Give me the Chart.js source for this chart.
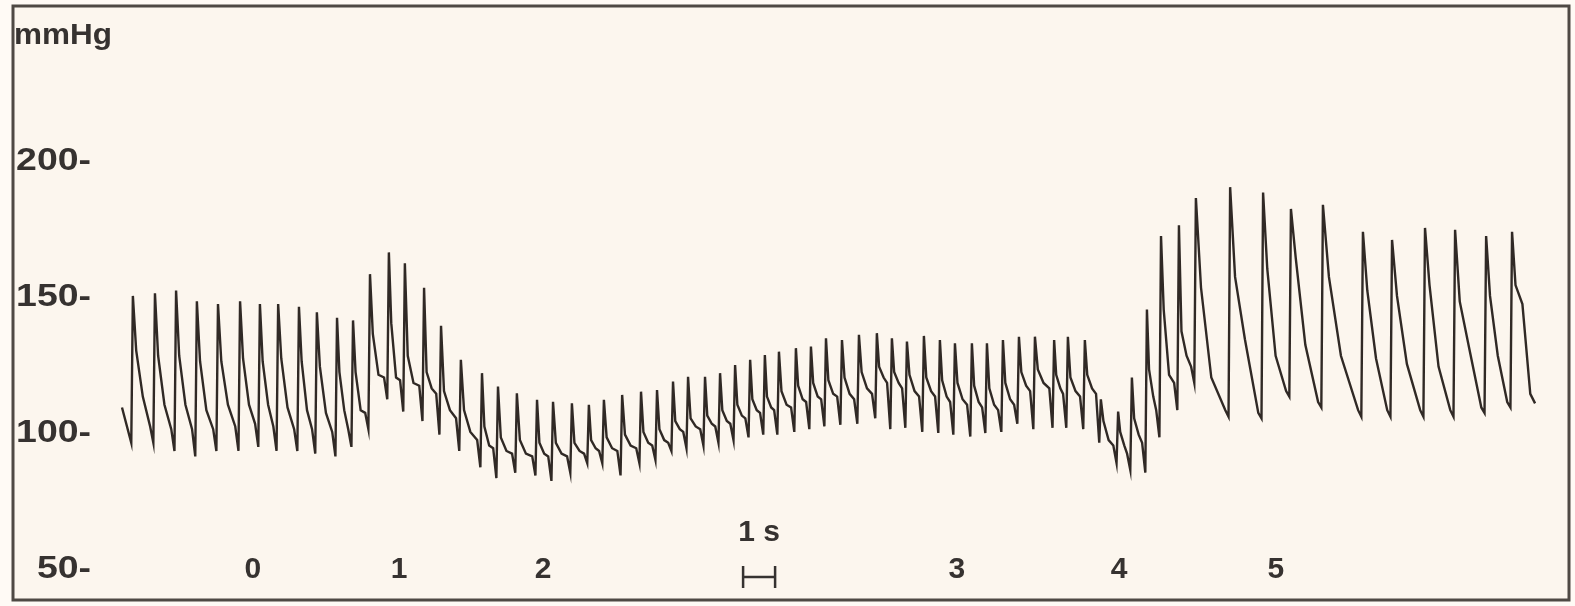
<!DOCTYPE html>
<html>
<head>
<meta charset="utf-8">
<title>Blood pressure trace</title>
<script src="https://cdn.jsdelivr.net/npm/chart.js@4.4.1/dist/chart.umd.min.js"></script>
<style>
  html, body { margin: 0; padding: 0; background: #fffaf5; }
  #wrap { width: 1575px; height: 606px; position: relative; }
</style>
</head>
<body>
<div id="wrap"><canvas id="bp-chart"></canvas></div>
<script>
// Arterial pressure trace (mmHg), one entry per heart beat, times in seconds

// time of each systolic peak
const beatTime = [
  0.34, 1.03, 1.69, 2.34, 3.00, 3.69, 4.31, 4.88, 5.53, 6.09, 6.72, 7.22,
  7.75, 8.34, 8.84, 9.44, 9.97, 10.59, 11.25, 11.75, 12.34, 12.97, 13.47, 14.06,
  14.59, 15.06, 15.63, 16.22, 16.72, 17.22, 17.69, 18.22, 18.69, 19.16, 19.63,
  20.09, 20.53, 21.06, 21.53, 22.00,
  22.50, 23.03, 23.59, 24.06, 24.53, 25.06, 25.56, 26.03, 26.56, 27.03, 27.53,
  28.03, 28.53, 29.13, 29.56, 30.09,
  30.59, 31.13, 31.56, 32.03, 32.47, 33.03, 33.56,
  34.63, 35.66, 36.53, 37.53, 38.78, 39.69, 40.72, 41.66, 42.63, 43.44
];
// systolic peak
const systolic = [
  150, 151, 152, 148, 147, 148, 147, 147, 146, 144, 142, 141,
  158, 166, 162, 153, 139, 126.5, 121.6, 116.7, 114.2, 111.8, 111.1, 110.5,
  110, 111.8, 113.6, 114.8, 115.4, 118.5, 120.3, 120.3, 121.6, 124.6, 126.5,
  128.3, 129.5, 130.8, 131.4, 134.4,
  133.8, 135.7, 136.3, 134.4, 133.2, 135.3, 133.8, 132.6, 132.6, 132.6, 133.8,
  135, 135, 133.8, 135, 133.8,
  112, 107.5, 120, 145, 172, 176, 186,
  190, 188, 182, 183.5, 173.6, 170.6, 175, 174.3, 172, 173.6
];
// pressure just after the fast fall from the peak
const shoulder = [
  130, 128, 128, 126, 126, 127, 126, 127, 126, 124, 122, 122,
  136, 140, 128, 122, 115, 108, 102, 98, 97, 96, 96, 96,
  97, 98, 99, 100, 101, 104, 105, 106, 108, 110, 112,
  113, 115, 117, 118, 119,
  120, 122, 124, 122, 121, 120, 119, 118, 117, 116, 118,
  122, 123, 121, 120, 121,
  104, 100, 105, 123, 145, 137, 153,
  157, 160, 164, 157, 152, 150, 154, 148, 150, 154
];
// pressure in the middle of diastole
const late = [
  113, 110, 110, 108, 110, 110, 110, 109, 108, 107, 108, 108,
  121, 120, 118, 116, 108, 100, 95, 93, 92, 92, 92, 93,
  94, 94, 95, 96, 97, 101, 102, 103, 104, 106, 108,
  109, 110, 112, 113, 114,
  114, 116, 120, 118, 115, 115, 113, 112, 111, 110, 112,
  117, 118, 116, 115, 116,
  97, 95, 99, 113, 121, 128, 120,
  134, 128, 132, 128, 127, 125, 124, 131, 128, 147
];
// pressure shortly before the next beat
const pre = [
  102, 101, 101, 101, 102, 103, 102, 101, 101, 100, 101, 107,
  120, 119, 117, 114, 105, 97, 94, 92, 91, 91, 91, 92,
  93, 93, 94, 95, 96, 100, 101, 102, 103, 105, 107,
  108, 109, 111, 112, 113,
  112, 114, 118, 116, 113, 113, 111, 110, 109, 108, 110,
  115, 116, 114, 113, 114,
  95, 92, 96, 108, 118, 124, 108,
  107, 115, 111, 108, 108, 108, 108, 109, 111, 114
];
// lowest pressure right before each upstroke
const dip = [
  96, 96, 93, 91, 93, 93, 94.5, 93, 93, 92, 91, 94.5,
  101, 112, 107.5, 104, 99, 93, 87, 83, 85, 84, 82, 85,
  88.5, 88.5, 84, 88.5, 89.7, 93, 94, 95, 96, 97, 98,
  99, 99, 100, 101, 102,
  102.6, 103, 105, 101, 101.5, 100, 99.6, 99, 98.3, 99.6, 100,
  103, 101, 101.5, 101.5, 101,
  96, 88.6, 86, 85, 98, 108, 118,
  105.6, 105, 113, 109, 105.6, 105.6, 105.6, 105.6, 107, 109
];
const traceStart = [0, 109];
const traceEnd = [44.16, 110.5];

// axis labels
const yTicks = [50, 100, 150, 200];
const phaseLabels = ['0', '1', '2', '3', '4', '5'];
const phaseTimes = [4.09, 8.66, 13.16, 26.09, 31.16, 36.06];
const scaleBar = [19.41, 20.41]; // 1 s
const scaleBarLabel = '1 s';
const yUnit = 'mmHg';

// build the trace from the per-beat values
const tracePoints = [{ x: traceStart[0], y: traceStart[1] }];
for (let i = 0; i < beatTime.length; i++) {
  const t = beatTime[i];
  const next = i + 1 < beatTime.length ? beatTime[i + 1] : traceEnd[0];
  const T = next - t;
  tracePoints.push({ x: t - 0.05, y: dip[i] });
  tracePoints.push({ x: t, y: systolic[i] });
  tracePoints.push({ x: t + 0.15 * T, y: shoulder[i] });
  tracePoints.push({ x: t + 0.45 * T, y: late[i] });
  tracePoints.push({ x: next - 0.15, y: pre[i] });
}
tracePoints.push({ x: traceEnd[0], y: traceEnd[1] });

const textColor = '#363230';
const fontFamily = '"Liberation Sans", Arial, sans-serif';

// background, frame and the lettering
const tracingDecor = {
  id: 'tracingDecor',
  beforeDraw(chart) {
    const { ctx, chartArea: a } = chart;
    ctx.save();
    ctx.fillStyle = '#fcf6ee';
    ctx.fillRect(a.left, a.top, a.right - a.left, a.bottom - a.top);
    ctx.restore();
  },
  afterDraw(chart) {
    const { ctx, chartArea: a } = chart;
    const xs = chart.scales.x;
    const ys = chart.scales.y;
    ctx.save();

    ctx.strokeStyle = '#4f4944';
    ctx.lineWidth = 3;
    ctx.strokeRect(a.left, a.top, a.right - a.left, a.bottom - a.top);

    ctx.fillStyle = textColor;
    ctx.textBaseline = 'middle';

    // unit, a little stretched like the original lettering
    ctx.font = 'bold 30px ' + fontFamily;
    ctx.textAlign = 'left';
    ctx.save();
    ctx.translate(a.left + 1, a.top + 30);
    ctx.scale(1.05, 1);
    ctx.fillText(yUnit, 0, 0);
    ctx.restore();

    // y labels "200-" etc.
    ctx.font = 'bold 32px ' + fontFamily;
    ctx.textAlign = 'right';
    yTicks.forEach(v => {
      ctx.save();
      ctx.translate(a.left + 78, ys.getPixelForValue(v) + 1);
      ctx.scale(1.17, 1);
      ctx.fillText(v + '-', 0, 0);
      ctx.restore();
    });

    const baseY = ys.getPixelForValue(50);
    ctx.font = 'bold 30px ' + fontFamily;
    ctx.textAlign = 'center';
    phaseLabels.forEach((lab, i) => {
      ctx.fillText(lab, xs.getPixelForValue(phaseTimes[i]), baseY + 2);
    });

    // 1 s scale bar
    const x0 = xs.getPixelForValue(scaleBar[0]);
    const x1 = xs.getPixelForValue(scaleBar[1]);
    const yb = baseY + 9;
    ctx.fillText(scaleBarLabel, (x0 + x1) / 2, baseY - 35);
    ctx.strokeStyle = textColor;
    ctx.lineWidth = 2.5;
    ctx.beginPath();
    ctx.moveTo(x0, yb); ctx.lineTo(x1, yb);
    ctx.moveTo(x0, yb - 11); ctx.lineTo(x0, yb + 11);
    ctx.moveTo(x1, yb - 11); ctx.lineTo(x1, yb + 11);
    ctx.stroke();

    ctx.restore();
  }
};

new Chart(document.getElementById('bp-chart'), {
  type: 'line',
  data: {
    datasets: [{
      label: 'Arterial pressure',
      data: tracePoints,
      borderColor: '#302925',
      borderWidth: 2.4,
      pointRadius: 0,
      tension: 0,
      fill: false
    }]
  },
  options: {
    responsive: true,
    maintainAspectRatio: false,
    animation: false,
    layout: { padding: { left: 13, top: 6, right: 6, bottom: 6 } },
    plugins: {
      legend: { display: false },
      tooltip: { enabled: false }
    },
    scales: {
      x: { type: 'linear', display: false, min: -3.406, max: 45.22 },
      y: { type: 'linear', display: false, min: 38.2, max: 256.6 }
    }
  },
  plugins: [tracingDecor]
});
</script>
</body>
</html>
